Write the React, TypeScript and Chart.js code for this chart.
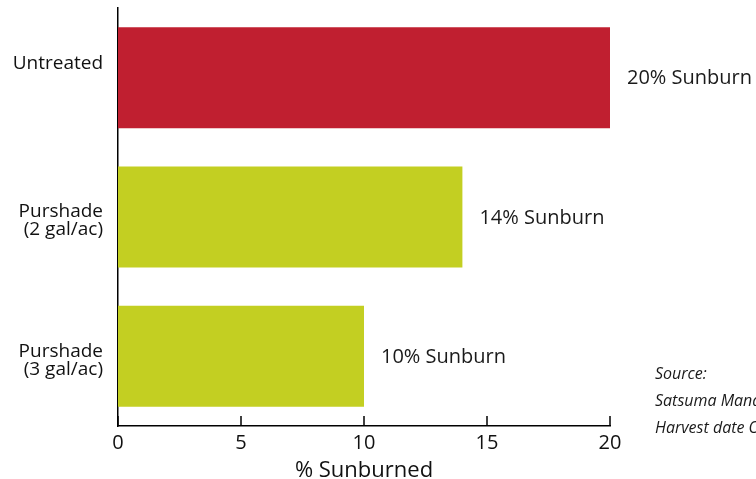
import React, { useEffect, useRef } from "react";
import { Chart, registerables } from "chart.js";

Chart.register(...registerables);

const categories: string[][] = [["Untreated", "", ""], ["Purshade", "(2 gal/ac)"], ["Purshade", "(3 gal/ac)"]];
const values: number[] = [20, 14, 10];
const barColors: string[] = ["#C01F30", "#C3CF22", "#C3CF22"];
const valueLabels: string[] = ["20% Sunburn", "14% Sunburn", "10% Sunburn"];
const xTicks: number[] = [0, 5, 10, 15, 20];
const sourceLines: string[] = ["Source:", "Satsuma Mandarin", "Harvest date October"];
const FONT = "'Open Sans', 'Noto Sans', sans-serif";

export default function App() {
  const ref = useRef<HTMLCanvasElement | null>(null);
  useEffect(() => {
    document.body.style.margin = "0";
    const canvas = ref.current;
    if (!canvas) return;
    const overlay = {
      id: "overlay",
      afterDatasetsDraw(chart: any) {
        const ctx = chart.ctx;
        const meta = chart.getDatasetMeta(0);
        const xs = chart.scales.x;
        const area = chart.chartArea;
        ctx.save();
        ctx.strokeStyle = "#000";
        ctx.lineWidth = 1.5;
        xTicks.forEach((t) => {
          const px = xs.getPixelForValue(t);
          ctx.beginPath();
          ctx.moveTo(px, area.bottom - 10);
          ctx.lineTo(px, area.bottom);
          ctx.stroke();
        });
        ctx.fillStyle = "#1a1a1a";
        ctx.font = `20px ${FONT}`;
        ctx.textBaseline = "middle";
        ctx.textAlign = "left";
        meta.data.forEach((bar: any, i: number) => {
          ctx.fillText(valueLabels[i], bar.x + 17, bar.y + 1);
        });
        ctx.font = `italic 16px ${FONT}`;
        sourceLines.forEach((s, i) => {
          ctx.fillText(s, 655, 374 + i * 27);
        });
        ctx.restore();
      },
    };
    const chart = new Chart(canvas, {
      type: "bar",
      data: {
        labels: categories,
        datasets: [
          {
            data: values,
            backgroundColor: barColors,
            borderWidth: 0,
            barPercentage: 0.725,
            categoryPercentage: 1,
          },
        ],
      },
      options: {
        indexAxis: "y",
        animation: false,
        responsive: false,
        layout: { padding: { top: 8, right: 146, left: 0, bottom: 0 } },
        plugins: { legend: { display: false }, tooltip: { enabled: false } },
        scales: {
          x: {
            min: 0,
            max: 20,
            ticks: { stepSize: 5, color: "#111", font: { size: 20, family: FONT }, padding: 5 },
            grid: { display: false, drawTicks: false },
            border: { display: true, color: "#000", width: 1.5 },
            title: { display: true, text: "% Sunburned", color: "#111", font: { size: 22, family: FONT }, padding: { top: 0, bottom: -5 } },
            afterFit: (s: any) => { s.height = 53; s.paddingLeft = 0; s.paddingRight = 0; },
          },
          y: {
            ticks: { color: "#111", font: { size: 19, family: FONT, lineHeight: 0.95 }, padding: 15, labelOffset: 4 },
            grid: { display: false, drawTicks: false },
            border: { display: true, color: "#000", width: 1.5 },
            afterFit: (s: any) => { s.width = 118; s.paddingTop = 0; s.paddingBottom = 0; },
          },
        },
      },
      plugins: [overlay],
    });
    return () => chart.destroy();
  }, []);
  return (
    <div style={{ width: 756, height: 479 }}>
      <canvas ref={ref} width={756} height={479} style={{ display: "block" }} />
    </div>
  );
}
